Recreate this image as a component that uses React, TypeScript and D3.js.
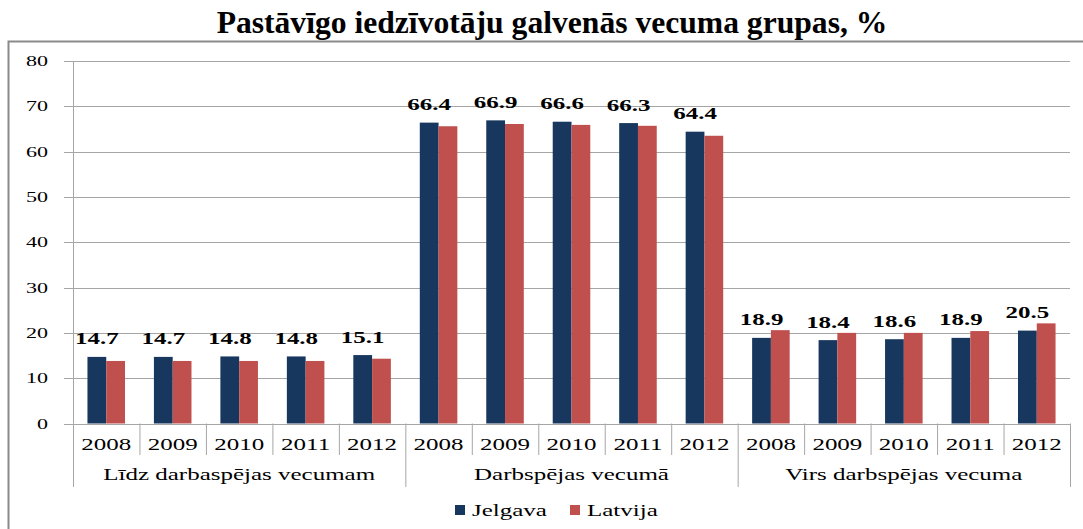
import React from 'react';
import * as d3 from 'd3';

const years = ['2008', '2009', '2010', '2011', '2012'];
const groups = ['Līdz darbaspējas vecumam', 'Darbspējas vecumā', 'Virs darbspējas vecuma'];
const seriesNames = ['Jelgava', 'Latvija'];
const jelgava = [14.7, 14.7, 14.8, 14.8, 15.1, 66.4, 66.9, 66.6, 66.3, 64.4, 18.9, 18.4, 18.6, 18.9, 20.5];
const latvija = [13.8, 13.8, 13.8, 13.8, 14.3, 65.6, 66.1, 65.9, 65.7, 63.5, 20.6, 20.0, 20.0, 20.4, 22.1];
const yTicks = [0, 10, 20, 30, 40, 50, 60, 70, 80];
const title = 'Pastāvīgo iedzīvotāju galvenās vecuma grupas, %';

const colors = ['#17375E', '#C0504D'];
const FONT = "'Liberation Serif', 'Times New Roman', serif";
const SX = 1.47;

type STProps = { x: number; y: number; anchor?: string; size: number; weight?: string | number; sx?: number; fill?: string; children: React.ReactNode };
function SText({ x, y, anchor = 'middle', size, weight = 'normal', sx = SX, fill = '#000', children }: STProps) {
  return (
    <text
      transform={`translate(${x},${y}) scale(${sx},1)`}
      textAnchor={anchor as any}
      fontSize={size}
      fontFamily={FONT}
      fontWeight={weight as any}
      fill={fill}
    >
      {children}
    </text>
  );
}

export default function App() {
  const W = 1083, H = 529;
  const left = 73, right = 1070, top = 61, bottom = 423.5;
  const cats = groups.flatMap((g, gi) => years.map((yr) => `${gi}-${yr}`));
  const x = d3.scaleBand<string>().domain(cats).range([left, right]).paddingInner(0.435).paddingOuter(0.2175);
  const xs = d3.scaleBand<string>().domain(seriesNames).range([0, x.bandwidth()]);
  const y = d3.scaleLinear().domain([0, 80]).range([bottom, top]);
  const step = x.step();
  const values = [jelgava, latvija];
  const gridColor = '#a6a6a6';

  return (
    <svg width={W} height={H} style={{ position: 'absolute', left: 0, top: 0, background: '#fff' }}>
      <rect x={0} y={0} width={W} height={H} fill="#fff" />
      <text x={552} y={33} textAnchor="middle" fontFamily={FONT} fontWeight="bold" fontSize={31} fill="#000"
        transform="translate(552,0) scale(1.02,1) translate(-552,0)">
        {title}
      </text>
      <rect x={8.5} y={41.5} width={1100} height={520} fill="none" stroke="#8a8a8a" strokeWidth={2} />

      {/* gridlines and y ticks */}
      {yTicks.map((t) => (
        <g key={t}>
          <line x1={64} x2={right} y1={Math.round(y(t)) + 0.5} y2={Math.round(y(t)) + 0.5} stroke={gridColor} strokeWidth={1} />
          <SText x={48} y={y(t) + 5} anchor="end" size={15}>{t}</SText>
        </g>
      ))}
      <line x1={left + 0.5} x2={left + 0.5} y1={top} y2={bottom} stroke={gridColor} />

      {/* bars */}
      {values.map((vals, si) =>
        vals.map((v, i) => (
          <rect
            key={`${si}-${i}`}
            x={(x(cats[i]) as number) + (xs(seriesNames[si]) as number)}
            y={y(v)}
            width={xs.bandwidth()}
            height={y(0) - y(v)}
            fill={colors[si]}
          />
        ))
      )}

      {/* data labels Jelgava */}
      {jelgava.map((v, i) => (
        <SText key={`l${i}`} x={(x(cats[i]) as number) + (xs('Jelgava') as number) + xs.bandwidth() / 2} y={y(v) - 12.5} size={17} weight="bold">
          {v.toFixed(1)}
        </SText>
      ))}

      {/* x axis */}
      <line x1={left} x2={right} y1={Math.round(bottom) + 0.5} y2={Math.round(bottom) + 0.5} stroke={gridColor} />
      {cats.map((c, i) => (
        <g key={`t${i}`}>
          <line x1={left + i * step + 0.5} x2={left + i * step + 0.5} y1={bottom} y2={i % years.length === 0 ? 487 : 455} stroke={gridColor} />
          <SText x={left + i * step + step / 2} y={450} size={17}>{years[i % years.length]}</SText>
        </g>
      ))}
      <line x1={right + 0.5} x2={right + 0.5} y1={bottom} y2={487} stroke={gridColor} />
      {groups.map((g, gi) => (
        <SText key={g} x={left + (gi * years.length + years.length / 2) * step} y={480} size={17}>{g}</SText>
      ))}

      {/* legend */}
      {seriesNames.map((s, si) => {
        const lx = 455 + si * 115;
        return (
          <g key={s}>
            <rect x={lx} y={505} width={10} height={10} fill={colors[si]} />
            <SText x={lx + 17} y={516} anchor="start" size={17}>{s}</SText>
          </g>
        );
      })}
    </svg>
  );
}
